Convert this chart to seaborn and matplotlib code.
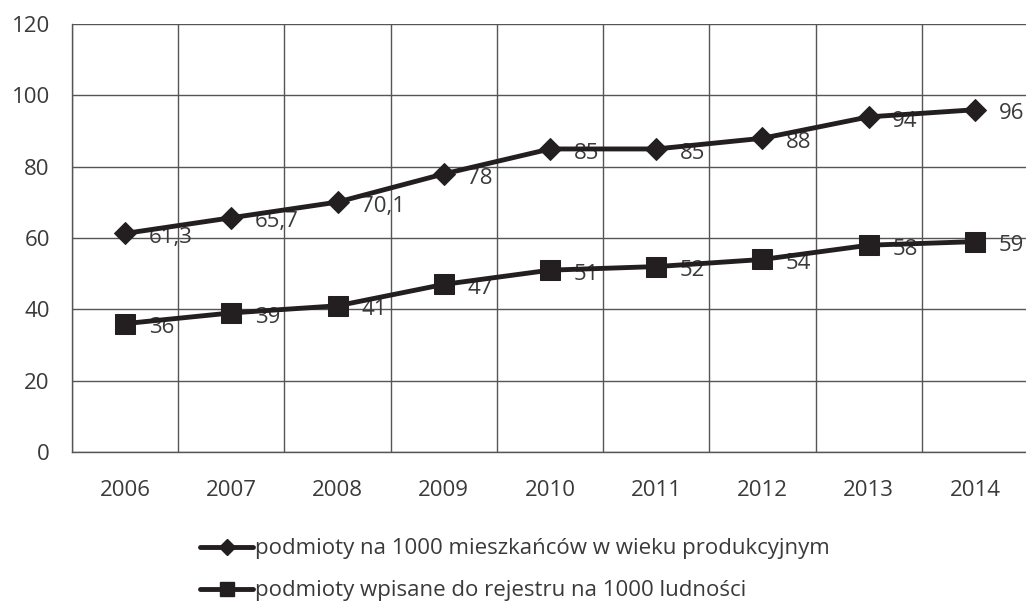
import numpy as np
import pandas as pd
import seaborn as sns
from matplotlib import pyplot as plt
from matplotlib.lines import Line2D

years = ['2006', '2007', '2008', '2009', '2010', '2011', '2012', '2013', '2014']
per_working_age = [61.3, 65.7, 70.1, 78, 85, 85, 88, 94, 96]
per_population = [36, 39, 41, 47, 51, 52, 54, 58, 59]
series_names = ['podmioty na 1000 mieszkańców w wieku produkcyjnym',
                'podmioty wpisane do rejestru na 1000 ludności']

sns.set_style("white")
plt.rcParams['font.family'] = ['Open Sans', 'DejaVu Sans']

df = pd.DataFrame({
    'pos': list(range(len(years))) * 2,
    'value': per_working_age + per_population,
    'series': [series_names[0]] * len(years) + [series_names[1]] * len(years),
})

ink = '#231f20'
txt = '#3a3a3a'
grid = '#555555'
fs = 16

fig = plt.figure(figsize=(10.26, 6.05), dpi=100)
ax = fig.add_axes([0.0702, 0.253, 0.9318, 0.707])

sns.lineplot(data=df, x='pos', y='value', hue='series', style='series',
             markers={series_names[0]: 'D', series_names[1]: 's'},
             dashes=False, palette=[ink, ink], linewidth=3.5,
             markersize=11, markeredgecolor=ink, legend=False, ax=ax, zorder=3)
# squares a bit bigger, as in the original
for line in ax.lines:
    if line.get_marker() == 's':
        line.set_markersize(14)

def fmt(v):
    return str(int(v)) if float(v).is_integer() else f'{v}'.replace('.', ',')

for vals in (per_working_age, per_population):
    for i, v in enumerate(vals):
        ax.annotate(fmt(v), (i, v), xytext=(17, -3), textcoords='offset points',
                    ha='left', va='center', fontsize=fs, color=txt, zorder=2)

ax.set_xlim(-0.5, 8.5)
ax.set_ylim(0, 120)
ax.set_yticks(np.arange(0, 121, 20))
ax.set_xticks(range(len(years)), labels=years)
ax.set_xticks(np.arange(-0.5, 9, 1), minor=True)
ax.tick_params(axis='x', which='major', length=0, pad=20, labelsize=fs, colors=txt)
ax.tick_params(axis='x', which='minor', length=9, width=1, color=grid, direction='out')
ax.tick_params(axis='y', length=7, width=1, color=grid, pad=9, labelsize=fs, labelcolor=txt)
ax.set_xlabel('')
ax.set_ylabel('')

ax.grid(axis='y', which='major', color=grid, linewidth=1)
ax.grid(axis='x', which='minor', color=grid, linewidth=1)
for s in ['top', 'right']:
    ax.spines[s].set_visible(False)
for s in ['left', 'bottom']:
    ax.spines[s].set_color(grid)
    ax.spines[s].set_linewidth(1)

handles = [Line2D([], [], color=ink, lw=3.5, marker='D', markersize=8),
           Line2D([], [], color=ink, lw=3.5, marker='s', markersize=10)]
fig.legend(handles, series_names, loc='center', bbox_to_anchor=(0.502, 0.058),
           frameon=False, fontsize=fs, labelcolor=txt, handlelength=2.4,
           handletextpad=0.1, labelspacing=0.95)

fig.savefig('out.png', dpi=100)
